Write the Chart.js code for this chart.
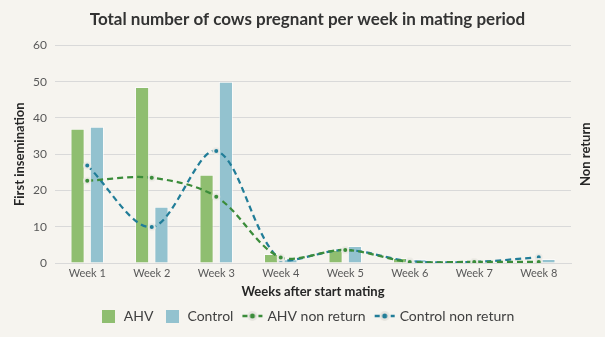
<!DOCTYPE html>
<html>
<head>
<meta charset="utf-8">
<script src="https://cdn.jsdelivr.net/npm/chart.js@4/dist/chart.umd.min.js"></script>
<style>
	html, body { margin: 0; padding: 0; background: #f6f4ef; }
	#wrap { width: 605px; height: 337px; }
</style>
</head>
<body>
<div id="wrap"><canvas id="chart"></canvas></div>
<script>
const weeks = ["Week 1", "Week 2", "Week 3", "Week 4", "Week 5", "Week 6", "Week 7", "Week 8"];
const ahv = [37, 48.5, 24.3, 2.5, 3.6, 1.4, 0, 0];
const control = [37.6, 15.5, 50, 1.0, 4.7, 1.0, 0, 1.1];
const ahvNonReturn = [22.7, 23.5, 18.3, 1.5, 3.6, 0.3, 0.3, 0.3];
const controlNonReturn = [26.9, 9.9, 30.9, 0.8, 3.6, 0.5, 0.3, 1.6];
const yTicks = [0, 10, 20, 30, 40, 50, 60];

const green = "#8fbe70";
const blue = "#93c2cf";
const darkGreen = "#3b8c3a";
const teal = "#217d98";
const textColor = "#595959";
const font = "Lato";

// legend icons
function boxIcon(color) {
	const c = document.createElement("canvas");
	c.width = 13;
	c.height = 13;
	const ctx = c.getContext("2d");
	ctx.fillStyle = color;
	ctx.fillRect(0, 0, 13, 13);
	return c;
}

function lineIcon(color) {
	const c = document.createElement("canvas");
	c.width = 22;
	c.height = 12;
	const ctx = c.getContext("2d");
	ctx.strokeStyle = color;
	ctx.lineWidth = 2.5;
	ctx.setLineDash([5, 3]);
	ctx.beginPath();
	ctx.moveTo(1, 6);
	ctx.lineTo(21, 6);
	ctx.stroke();
	ctx.fillStyle = "#e6e4df";
	ctx.beginPath();
	ctx.arc(11, 6, 5, 0, Math.PI * 2);
	ctx.fill();
	ctx.fillStyle = color;
	ctx.beginPath();
	ctx.arc(11, 6, 2.5, 0, Math.PI * 2);
	ctx.fill();
	return c;
}

const legendIcons = [boxIcon(green), boxIcon(blue), lineIcon(darkGreen), lineIcon(teal)];

const rightTitle = {
	id: "rightTitle",
	afterDraw(chart) {
		const ctx = chart.ctx;
		const area = chart.chartArea;
		ctx.save();
		ctx.translate(586, (area.top + area.bottom) / 2);
		ctx.rotate(-Math.PI / 2);
		ctx.font = "bold 13px " + font;
		ctx.fillStyle = "#262626";
		ctx.textAlign = "center";
		ctx.textBaseline = "middle";
		ctx.fillText("Non return", 0, 0);
		ctx.restore();
	},
};

const lineStyle = {
	type: "line",
	yAxisID: "y2",
	borderWidth: 2.25,
	borderDash: [6, 4],
	tension: 0.33,
	pointRadius: 3,
	pointBorderWidth: 2,
	pointBorderColor: "rgba(238,236,231,0.95)",
	fill: false,
	order: 1,
};

const ctx = document.getElementById("chart").getContext("2d");
const myChart = new Chart(ctx, {
	type: "bar",
	data: {
		labels: weeks,
		datasets: [
			{
				label: "AHV",
				data: ahv,
				backgroundColor: green,
				borderColor: "rgba(255,255,255,0.55)",
				borderWidth: 1,
				categoryPercentage: 0.6,
				barPercentage: 0.73,
				order: 2,
			},
			{
				label: "Control",
				data: control,
				backgroundColor: blue,
				borderColor: "rgba(255,255,255,0.55)",
				borderWidth: 1,
				categoryPercentage: 0.6,
				barPercentage: 0.73,
				order: 2,
			},
			{
				...lineStyle,
				label: "AHV non return",
				data: ahvNonReturn,
				borderColor: darkGreen,
				backgroundColor: darkGreen,
				pointBackgroundColor: darkGreen,
			},
			{
				...lineStyle,
				label: "Control non return",
				data: controlNonReturn,
				borderColor: teal,
				backgroundColor: teal,
				pointBackgroundColor: teal,
			},
		],
	},
	options: {
		responsive: true,
		maintainAspectRatio: false,
		animation: false,
		layout: { padding: { left: 10, right: 0, top: 0, bottom: 4 } },
		plugins: {
			title: {
				display: true,
				text: "Total number of cows pregnant per week in mating period",
				color: "#333333",
				font: { family: font, size: 17, weight: "bold" },
				padding: { top: 9, bottom: 16 },
			},
			legend: {
				position: "bottom",
				labels: {
					usePointStyle: true,
					pointStyleWidth: 16,
					padding: 11,
					color: "#404040",
					font: { family: font, size: 14 },
					sort: (a, b) => a.datasetIndex - b.datasetIndex,
					generateLabels(chart) {
						const items = Chart.defaults.plugins.legend.labels.generateLabels(chart);
						items.forEach(item => {
							item.pointStyle = legendIcons[item.datasetIndex];
						});
						return items;
					},
				},
			},
			tooltip: { enabled: false },
		},
		scales: {
			x: {
				grid: { display: false },
				border: { color: "#d9d9d9" },
				ticks: { color: textColor, font: { family: font, size: 11 }, padding: -4 },
				title: {
					display: true,
					text: "Weeks after start mating",
					color: "#262626",
					font: { family: font, size: 13, weight: "bold" },
					padding: { top: 4, bottom: -2 },
				},
				afterFit(scale) {
					scale.height = 35;
				},
			},
			y: {
				min: 0,
				max: 60,
				afterBuildTicks(scale) {
					scale.ticks = yTicks.map(v => ({ value: v }));
				},
				grid: { color: "#d9d9d9", drawTicks: false },
				border: { display: false },
				ticks: { color: textColor, font: { family: font, size: 12 }, padding: 8 },
				title: {
					display: true,
					text: "First insemination",
					color: "#262626",
					font: { family: font, size: 13, weight: "bold" },
					padding: { top: 2, bottom: 0 },
				},
				afterFit(scale) {
					scale.width = 45;
				},
			},
			y2: {
				position: "right",
				min: 0,
				max: 60,
				grid: { display: false },
				border: { display: false },
				ticks: { display: false },
				afterFit(scale) {
					scale.width = 34;
				},
			},
		},
	},
	plugins: [rightTitle],
});
</script>
</body>
</html>
